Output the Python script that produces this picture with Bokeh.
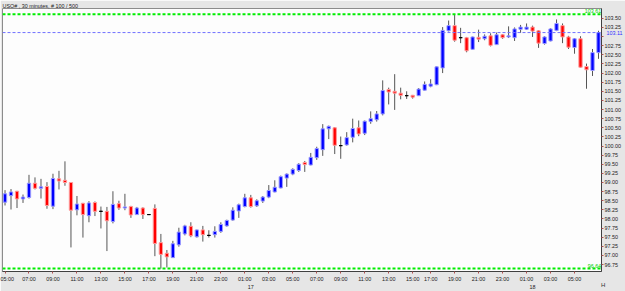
from bokeh.plotting import figure
from bokeh.models import (ColumnDataSource, FixedTicker, LinearAxis, Range1d, Label,
                          NumeralTickFormatter, Span)
from bokeh.embed import file_html
from bokeh.resources import INLINE

title_text = "USO# , 30 minutes, # 100 / 500"

opens = [98.46, 98.64, 98.76, 98.55, 98.59, 98.98, 98.84, 98.89, 98.35, 99.10,
         99.06, 99.00, 98.25, 98.43, 98.09, 98.45, 98.21, 98.21, 97.93, 98.42,
         98.30, 98.34, 98.12, 98.30, 98.12, 98.29, 97.35, 97.06, 96.94, 97.29,
         97.59, 97.80, 97.51, 97.70, 97.55, 97.57, 97.66, 97.81, 97.97, 98.22,
         98.34, 98.58, 98.36, 98.49, 98.60, 98.74, 98.85, 99.12, 99.23, 99.33,
         99.55, 99.48, 99.68, 99.90, 100.47, 100.50, 100.01, 100.03, 100.24, 100.50,
         100.35, 100.67, 100.72, 100.88, 101.55, 101.50, 101.45, 101.38, 101.39, 101.38,
         101.53, 101.64, 101.68, 102.14, 103.16, 103.30, 102.97, 102.97, 102.65, 102.98,
         102.94, 103.02, 102.78, 103.05, 102.99, 102.97, 103.20, 103.20, 103.26, 103.16,
         102.81, 102.88, 103.17, 103.30, 102.99, 102.70, 102.94, 102.18, 102.07, 102.56]
highs = [98.79, 98.82, 98.77, 98.67, 99.21, 99.14, 99.10, 99.01, 99.24, 99.32,
         99.58, 99.01, 98.63, 98.44, 98.49, 98.48, 98.34, 98.33, 98.76, 98.50,
         98.69, 98.36, 98.33, 98.32, 98.13, 98.40, 97.59, 97.15, 97.40, 97.76,
         97.84, 97.91, 97.71, 97.81, 97.69, 97.80, 97.91, 97.98, 98.32, 98.42,
         98.69, 98.66, 98.54, 98.63, 98.93, 99.06, 99.19, 99.25, 99.39, 99.53,
         99.59, 99.81, 99.98, 100.60, 100.56, 100.52, 100.26, 100.38, 100.75, 100.70,
         100.70, 100.95, 100.96, 101.80, 101.60, 101.97, 101.60, 101.50, 101.40, 101.59,
         101.77, 101.83, 102.18, 103.26, 103.44, 103.61, 103.24, 102.99, 103.00, 103.19,
         103.06, 103.09, 103.11, 103.07, 103.28, 103.25, 103.32, 103.36, 103.30, 103.18,
         103.01, 103.23, 103.47, 103.36, 103.02, 102.96, 103.01, 102.26, 102.66, 103.16]
lows = [98.37, 98.26, 98.30, 98.44, 98.56, 98.81, 98.56, 98.28, 98.27, 98.81,
        98.91, 97.22, 98.10, 97.49, 97.91, 98.08, 97.74, 97.12, 97.88, 98.25,
        98.24, 98.03, 98.11, 98.00, 98.11, 96.98, 96.64, 96.67, 96.93, 97.24,
        97.55, 97.50, 97.49, 97.38, 97.49, 97.49, 97.62, 97.79, 97.95, 98.03,
        98.32, 98.31, 98.33, 98.44, 98.57, 98.73, 98.84, 98.88, 99.20, 99.29,
        99.29, 99.47, 99.62, 99.73, 100.19, 99.78, 99.65, 100.01, 100.10, 100.27,
        100.30, 100.61, 100.67, 100.84, 101.14, 100.99, 101.28, 101.29, 101.30, 101.37,
        101.52, 101.61, 101.67, 102.00, 103.14, 102.86, 102.82, 102.57, 102.64, 102.85,
        102.90, 102.73, 102.77, 102.94, 102.96, 102.88, 103.10, 103.18, 102.99, 102.69,
        102.78, 102.87, 103.15, 102.82, 102.66, 102.53, 102.15, 101.57, 101.92, 102.39]
closes = [98.69, 98.74, 98.55, 98.60, 98.98, 98.84, 98.88, 98.37, 99.11, 99.04,
          99.00, 98.24, 98.41, 98.12, 98.44, 98.21, 98.21, 97.95, 98.40, 98.30,
          98.33, 98.11, 98.30, 98.12, 98.12, 97.33, 97.03, 96.96, 97.32, 97.64,
          97.81, 97.54, 97.70, 97.57, 97.55, 97.66, 97.85, 97.96, 98.24, 98.39,
          98.58, 98.34, 98.50, 98.60, 98.78, 98.87, 99.16, 99.23, 99.36, 99.50,
          99.49, 99.69, 99.93, 100.47, 100.54, 100.02, 100.01, 100.23, 100.48, 100.33,
          100.68, 100.75, 100.88, 101.52, 101.48, 101.45, 101.39, 101.38, 101.34, 101.56,
          101.69, 101.70, 102.17, 103.17, 103.30, 102.90, 102.97, 102.61, 102.99, 102.93,
          103.01, 102.76, 103.05, 102.97, 103.02, 103.21, 103.26, 103.26, 103.15, 102.82,
          102.99, 103.21, 103.36, 102.99, 102.71, 102.94, 102.16, 102.09, 102.56, 103.11]

time_tick_pos = [0, 4, 8, 12, 16, 20, 24, 28, 32, 36, 40, 44, 48, 52, 56, 60, 64, 68,
                 71, 75, 79, 83, 87, 91, 95]
time_tick_labels = ["05:00", "07:00", "09:00", "11:00", "13:00", "15:00", "17:00", "19:00",
                    "21:00", "23:00", "01:00", "03:00", "05:00", "07:00", "09:00", "11:00",
                    "13:00", "15:00", "17:00", "19:00", "21:00", "23:00", "01:00", "03:00",
                    "05:00"]
day_tick_pos = [41, 88]
day_tick_labels = ["17", "18"]
price_ticks = [96.75, 97.00, 97.25, 97.50, 97.75, 98.00, 98.25, 98.50, 98.75, 99.00,
               99.25, 99.50, 99.75, 100.00, 100.25, 100.50, 100.75, 101.00, 101.25,
               101.50, 101.75, 102.00, 102.25, 102.50, 102.75, 103.00, 103.25, 103.50]
hidden_price_tick = 103.00     # covered by the current-price box in the original
high_level = 103.61
low_level = 96.64
bid_level = 103.11
button_text = "H"

FONT = "Liberation Sans"
FS = "5.4px"

n = len(opens)
idx = list(range(n))
fill, edge = [], []
for o, c in zip(opens, closes):
    if abs(c - o) < 0.005:
        fill.append("#000000"); edge.append("#000000")
    elif c > o:
        fill.append("#0000ff"); edge.append("#9a9aff")
    else:
        fill.append("#ff0000"); edge.append("#ff9a9a")

src = ColumnDataSource(dict(
    x=idx, o=opens, h=highs, l=lows, c=closes,
    top=[max(a, b) for a, b in zip(opens, closes)],
    bot=[min(a, b) for a, b in zip(opens, closes)],
    fill=fill, edge=edge))

p = figure(width=625, height=291, x_range=Range1d(-0.42, 99.5),
           y_range=Range1d(96.56, 103.77), output_backend="svg",
           toolbar_location=None, y_axis_location="right",
           min_border_left=2, min_border_right=0, min_border_top=0, min_border_bottom=0,
           background_fill_color="#fdfdfd", border_fill_color="#e6e6e6",
           outline_line_color="#8c8c8c")
p.title.text = title_text
p.title.text_font = FONT
p.title.text_font_size = FS
p.title.text_font_style = "normal"
p.title.text_color = "#222222"
p.title.standoff = 0
p.title.offset = 0
p.grid.visible = False


def boxed(ax, border, bg):
    props = ax.properties()
    if "major_label_border_line_color" in props:
        ax.major_label_border_line_color = border
    if "major_label_background_fill_color" in props:
        ax.major_label_background_fill_color = bg


def bare(ax):
    ax.axis_line_color = None
    ax.major_tick_line_color = None
    ax.minor_tick_line_color = None
    ax.major_tick_out = 0
    ax.major_tick_in = 0


xa = p.xaxis[0]
xa.ticker = FixedTicker(ticks=time_tick_pos)
xa.major_label_overrides = {pt: lb for pt, lb in zip(time_tick_pos, time_tick_labels)}
xa.major_label_text_align = "left"
xa.major_label_text_font = FONT
xa.major_label_text_font_size = FS
xa.major_label_text_color = "#222222"
xa.major_label_standoff = 2
xa.major_tick_out = 2
xa.major_tick_in = 0
xa.minor_tick_out = 0
xa.minor_tick_in = 0
xa.major_tick_line_color = "#b05050"
xa.axis_line_color = "#404040"

da = LinearAxis(ticker=FixedTicker(ticks=day_tick_pos),
                major_label_overrides={pt: lb for pt, lb in zip(day_tick_pos, day_tick_labels)})
bare(da)
da.major_label_standoff = 0
da.major_label_text_font = FONT
da.major_label_text_font_size = FS
da.major_label_text_color = "#222222"
p.add_layout(da, "below")

# small "H" button at the bottom right (zero-size axis drawn over the time scale)
x_end = 99.5
ha = LinearAxis(ticker=FixedTicker(ticks=[x_end]),
                major_label_overrides={x_end: "\u00a0\u00a0" + button_text})
bare(ha)
ha.major_label_text_align = "left"
ha.major_label_standoff = -10
ha.major_label_text_font = FONT
ha.major_label_text_font_size = "6px"
ha.major_label_text_color = "#333333"
boxed(ha, "#888888", "#eeeeee")
p.add_layout(ha, "below")

ya = p.yaxis[0]
ya.ticker = FixedTicker(ticks=price_ticks)
ya.formatter = NumeralTickFormatter(format="0.00")
ya.major_label_overrides = {hidden_price_tick: ""}
ya.major_label_text_font = FONT
ya.major_label_text_font_size = FS
ya.major_label_text_color = "#222222"
ya.major_label_standoff = 1
ya.major_tick_out = 2
ya.major_tick_in = 0
ya.minor_tick_out = 0
ya.minor_tick_in = 0
ya.major_tick_line_color = "#b05050"
ya.axis_line_color = "#404040"

# current price marker on the price scale (zero-size axis drawn over the scale)
ba = LinearAxis(ticker=FixedTicker(ticks=[bid_level]), formatter=NumeralTickFormatter(format="0.00"))
bare(ba)
ba.major_label_standoff = -17
ba.major_label_text_font = FONT
ba.major_label_text_font_size = FS
ba.major_label_text_color = "#3030ff"
boxed(ba, "#ff8080", "#ffffff")
p.add_layout(ba, "right")

p.segment(x0="x", y0="l", x1="x", y1="h", source=src, line_color="#555555", line_width=1)
p.vbar(x="x", width=0.55, top="top", bottom="bot", source=src,
       fill_color="fill", line_color="edge", line_width=1)

p.add_layout(Span(location=high_level, dimension="width", line_color="#00ee00",
                  line_dash="3 2", line_width=2))
p.add_layout(Span(location=low_level, dimension="width", line_color="#00ee00",
                  line_dash="3 2", line_width=2))
p.add_layout(Span(location=bid_level, dimension="width", line_color="#7070ff",
                  line_dash="3 2", line_width=1))

p.add_layout(Label(x=99.45, y=high_level, text="%.2f" % high_level, text_align="right",
                   text_baseline="bottom", y_offset=1, text_color="#00cc00",
                   text_font=FONT, text_font_size=FS))
p.add_layout(Label(x=99.45, y=low_level, text="%.2f" % low_level, text_align="right",
                   text_baseline="bottom", y_offset=1, text_color="#00cc00",
                   text_font=FONT, text_font_size=FS))

open("out.html", "w").write(file_html(p, INLINE))
